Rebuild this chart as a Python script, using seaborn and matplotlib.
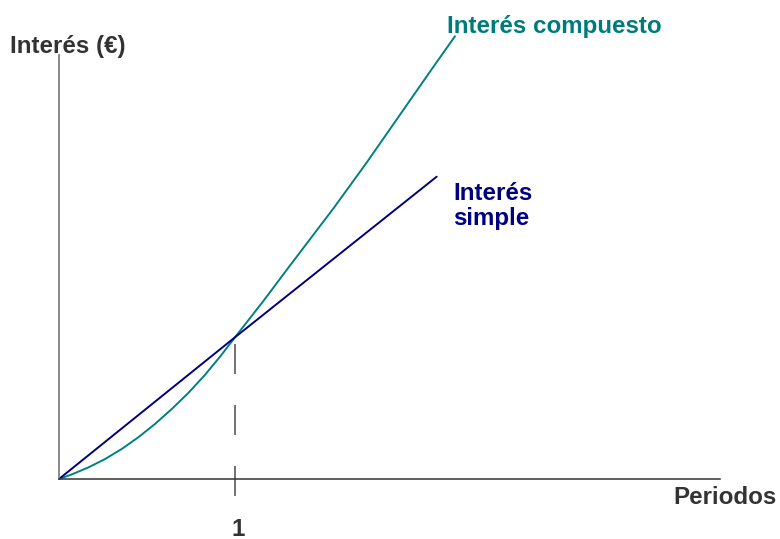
import pandas as pd
import matplotlib
matplotlib.use('Agg')
import matplotlib.pyplot as plt
import seaborn as sns

# Values (x in periods, y in interest units; 1 period -> 1 unit)
periodos_compuesto = [0.0, 0.072, 0.166, 0.261, 0.356, 0.451, 0.545, 0.640, 0.735, 0.830,
                      0.920, 1.0, 1.161, 1.313, 1.559, 1.748, 1.938, 2.127, 2.25]
interes_compuesto = [0.0, 0.032, 0.081, 0.140, 0.211, 0.294, 0.387, 0.492, 0.606, 0.734,
                     0.869, 0.998, 1.253, 1.504, 1.905, 2.228, 2.566, 2.902, 3.118]
periodos_simple = [0.0, 1.0, 2.146]
interes_simple = [0.0, 0.998, 2.129]
tick_periodo = 1

df_comp = pd.DataFrame({'periodo': periodos_compuesto, 'interes': interes_compuesto})
df_simp = pd.DataFrame({'periodo': periodos_simple, 'interes': interes_simple})

sns.set_style('white')
plt.rcParams['font.family'] = ['Liberation Sans', 'DejaVu Sans']

fig = plt.figure(figsize=(7.8, 5.39), dpi=100)
ax = fig.add_axes([59 / 780, 60 / 539, 661 / 780, 424 / 539])
ax.set_xlim(0, 3.756)
ax.set_ylim(0, 2.986)

teal = '#008080'
navy = '#000080'
txt = '#333333'

sns.lineplot(data=df_comp, x='periodo', y='interes', color=teal, lw=1.4, ax=ax, sort=False)
sns.lineplot(data=df_simp, x='periodo', y='interes', color=navy, lw=1.4, ax=ax, sort=False)
for ln in ax.lines:
    ln.set_clip_on(False)

# dashed guide at period 1
lw_d = 1.3
ax.plot([tick_periodo, tick_periodo], [0.95, -0.127], color='#666666', lw=lw_d,
        dashes=(21.6 / lw_d, 22.3 / lw_d), clip_on=False)

for s in ['top', 'right']:
    ax.spines[s].set_visible(False)
ax.spines['left'].set_color('#808080')
ax.spines['left'].set_linewidth(1.3)
ax.spines['bottom'].set_color(txt)
ax.spines['bottom'].set_linewidth(1.1)
ax.set_xticks([])
ax.set_yticks([])
ax.set_xlabel('')
ax.set_ylabel('')

fs = 17.4
fig.text(68 / 780, 1 - 47 / 539, 'Interés (€)', ha='center', va='center',
         fontsize=fs, fontweight='bold', color=txt)
fig.text(777 / 780, 1 - 497 / 539, 'Periodos', ha='right', va='center',
         fontsize=fs, fontweight='bold', color=txt)
fig.text(238 / 780, 1 - 529 / 539, str(tick_periodo), ha='center', va='center',
         fontsize=fs, fontweight='bold', color=txt)
fig.text(447 / 780, 1 - 27 / 539, 'Interés compuesto', ha='left', va='center',
         fontsize=fs, fontweight='bold', color='#007b7b')
fig.text(453 / 780, 1 - 206 / 539, 'Interés\nsimple', ha='left', va='center',
         fontsize=fs, fontweight='bold', color=navy, linespacing=1.1)

fig.savefig('out.png', dpi=100)
